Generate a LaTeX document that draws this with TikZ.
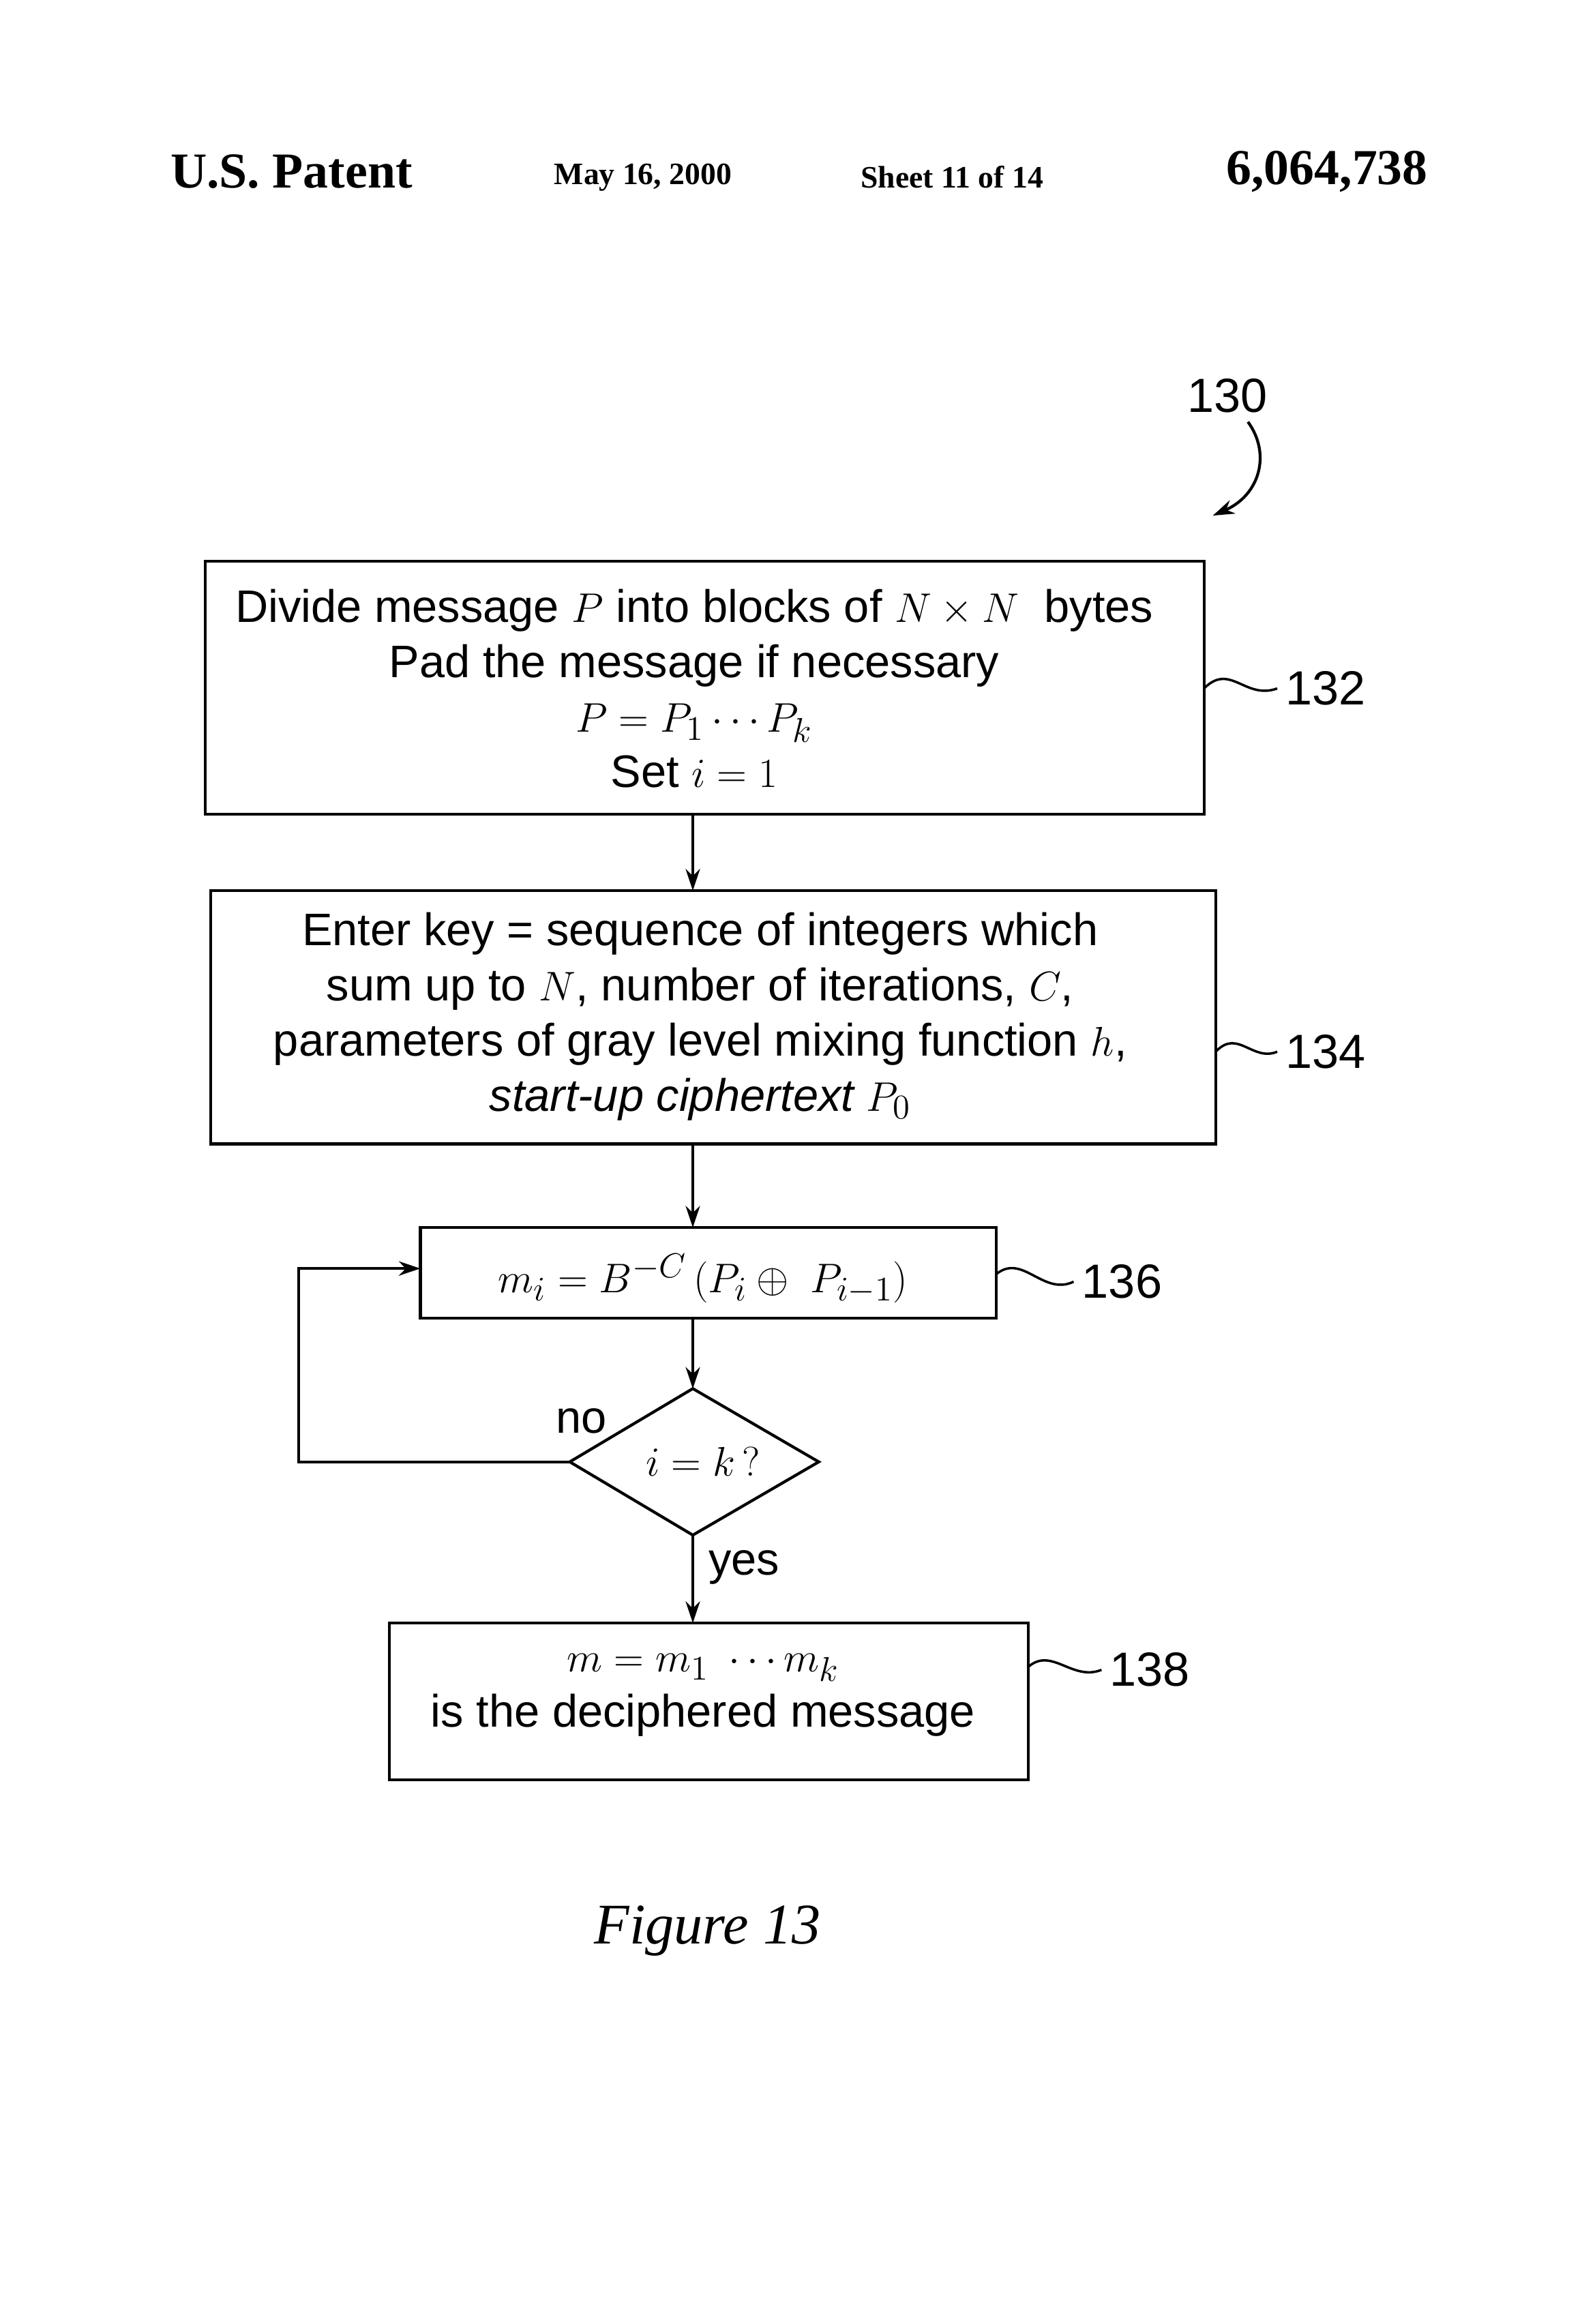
\documentclass[tikz,border=0pt]{standalone}
\usepackage{fontspec}
\setmainfont{Liberation Sans}
\newfontfamily\hdr{Liberation Serif}
\usetikzlibrary{shapes.geometric,arrows.meta}
\begin{document}
\begin{tikzpicture}[x=0.2148mm,y=-0.2148mm,
  box/.style={draw,line width=1.2pt,inner sep=0pt},
  txt/.style={font=\fontsize{19}{23}\selectfont,align=center},
  lab/.style={font=\fontsize{20}{22}\selectfont},
  arr/.style={line width=1.2pt,-{Stealth[length=9pt,width=6pt]}},
  lead/.style={line width=1pt},
  hd/.style={font=\hdr\bfseries\fontsize{13}{15}\selectfont}]
\useasboundingbox (0,0) rectangle (1080,1586.6);
\node[hd,font=\hdr\bfseries\fontsize{21}{24}\selectfont] (h1) at (199,117) {U.S. Patent};
\node[hd] (h2) at (439,121) {May 16, 2000};
\node[hd] (h3) at (650,121) {Sheet 11 of 14};
\node[hd,font=\hdr\bfseries\fontsize{21}{24}\selectfont] (h4) at (906,117) {6,064,738};
\node[lab] (l130) at (838,270) {130};
\coordinate (a130) at (828,352);
\draw[arr] (852,288) .. controls (868,310) and (860,338) .. (a130);
\draw[box] (140,383) rectangle (822,556);
\node[txt] (t1) at (474,470) {Divide message $P$ into blocks of $N \times N$\ \ bytes\\Pad the message if necessary\\$P=P_1\cdots P_k$\\Set $i=1$};
\coordinate (b1b) at (473,556);
\draw[box] (144,608) rectangle (830,781);
\coordinate (b2t) at (473,608); \coordinate (b2b) at (473,781);
\node[txt] (t2) at (478,694) {Enter key = sequence of integers which\\sum up to $N$, number of iterations, $C$,\\parameters of gray level mixing function $h$,\\\itshape start-up ciphertext $P_0$};
\draw[box] (287,838) rectangle (680,900);
\coordinate (b3t) at (473,838); \coordinate (b3b) at (473,900); \coordinate (b3l) at (287,866);
\node[txt] (t3) at (480,873) {$m_i = B^{-C}\,(P_i \oplus\ P_{i-1})$};
\draw[line width=1.2pt] (389,998) -- (473,948) -- (559,998) -- (473,1048) -- cycle;
\coordinate (dl) at (389,998); \coordinate (dt) at (473,948); \coordinate (db) at (473,1048);
\node[txt] (dtext) at (480,998) {$i=k\,?$};
\node[txt] (no) at (397,970) {no};
\node[txt] (yes) at (508,1070) {yes};
\draw[box] (266,1108) rectangle (702,1215);
\coordinate (b4t) at (473,1108);
\node[txt] (t4) at (480,1157) {$m=m_1\ \cdots m_k$\\is the deciphered message};
\draw[arr] (b1b) -- (b2t);
\draw[arr] (b2b) -- (b3t);
\draw[arr] (b3b) -- (dt);
\draw[arr] (db) -- (b4t);
\draw[arr] (dl) -- (204,998) -- (204,866) -- (b3l);
\coordinate (e1) at (822,470); \node[lab,anchor=west] (l132) at (872,470) {132};
\draw[lead] (e1) .. controls (840,452) and (850,478) .. (l132.west);
\coordinate (e2) at (830,718); \node[lab,anchor=west] (l134) at (872,718) {134};
\draw[lead] (e2) .. controls (845,702) and (855,725) .. (l134.west);
\coordinate (e3) at (680,870); \node[lab,anchor=west] (l136) at (733,875) {136};
\draw[lead] (e3) .. controls (698,855) and (712,885) .. (l136.west);
\coordinate (e4) at (702,1138); \node[lab,anchor=west] (l138) at (752,1140) {138};
\draw[lead] (e4) .. controls (718,1124) and (732,1148) .. (l138.west);
\node[font=\hdr\itshape\fontsize{24}{26}\selectfont] (fig) at (483,1318) {Figure 13};
\end{tikzpicture}
\end{document}
